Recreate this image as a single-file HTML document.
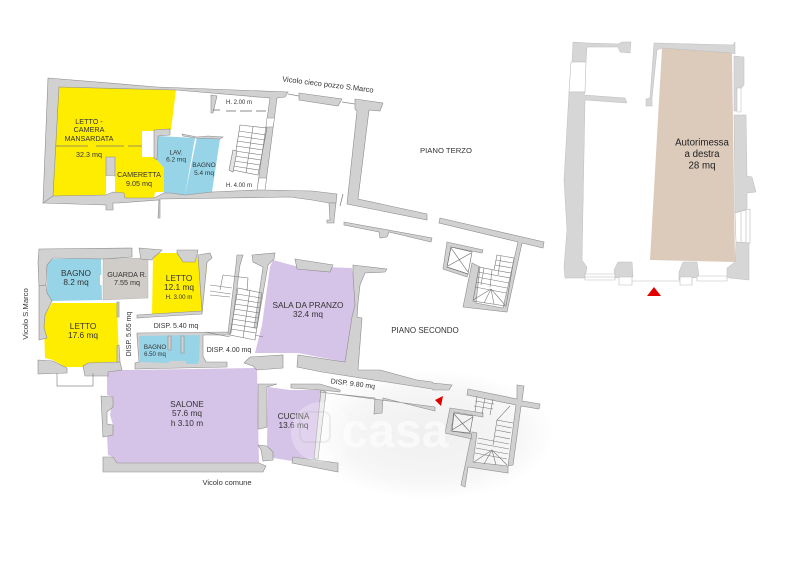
<!DOCTYPE html>
<html><head><meta charset="utf-8"><style>
html,body{margin:0;padding:0;background:#fff}
svg{display:block}
text{font-family:"Liberation Sans",sans-serif;fill:#333;text-anchor:middle}
.w{fill:#d1d1d1;stroke:#8c8c8c;stroke-width:.6}
.r{fill:#d6d6d6;stroke:#bdbdbd;stroke-width:.5}
.l{fill:none;stroke:#8a8a8a;stroke-width:.7}
.k{fill:none;stroke:#666;stroke-width:.6}
</style></head><body>
<svg width="800" height="565" viewBox="0 0 800 565" xmlns="http://www.w3.org/2000/svg">
<defs><radialGradient id="h"><stop offset="0" stop-color="#efefef"/><stop offset=".7" stop-color="#f6f6f6"/><stop offset="1" stop-color="#fff"/></radialGradient></defs>
<rect width="800" height="565" fill="#fff"/>
<ellipse cx="430" cy="435" rx="125" ry="65" fill="url(#h)"/>
<!-- PIANO TERZO rooms -->
<polygon fill="#ffed00" points="59,87 176,90 171,130 154,130 154,157 106,157 106,195 53,196"/>
<rect x="142" y="131" width="12" height="26" fill="#fff"/>
<polygon fill="#ffed00" points="115,157 154,157 164,168 164,192 155,192 154,198 125,198 124,193 115,192"/>
<polygon fill="#97d4e8" points="158,136 195,138 185,195 170,193 164,193 164,168 157,160"/>
<polygon fill="#97d4e8" points="197,137 220,139 212,192 185,195"/>
<!-- walls terzo -->
<polygon class="w" points="48,78 157,87 288,92 285,97 277,98 265,190 312,191 337,194 336,203 329,203 312,200 290,197 160,199 160,218 158,218 159,200 118,203 113,203 113,210 106,210 106,205 43,203 53,196 106,195 113,192 124,193 125,198 154,198 164,193 170,193 185,195 212,192 257,190 270,98 176,90 59,87 53,196 43,203"/>
<polygon class="w" points="106,157 115,157 115,176 106,176"/>
<polygon fill="#fff" points="106,176 114,176 114,189 106,189"/>
<polygon class="w" points="154,130 170,129 170,135 158,136 157,160 154,158"/>
<polygon class="w" points="182,134 197,137 208,136 223,137 220,139 196,138 183,136"/>
<polygon class="w" points="329,203 336,203 334,220 334,223 327,223 327,220 330,220"/>
<polygon class="w" points="211,95 217,96 213,113 211,113"/>
<polygon class="w" points="299,93 342,99 338,106 299,100"/>
<polygon class="w" points="355,99 383,103 380,111 369,110 358,199 427,214 427,220 347,204 357,111 355,109"/>
<polygon class="w" points="440,218 544,242 543,248 522,243 507,312 463,307 472,263 480,267 476,303 503,308 518,242 439,223"/>
<polygon class="w" points="344,222 432,238 431,242 389,232 387,237 380,238 379,232 344,225"/>
<polygon class="w" points="447,242 483,250 482,253 451,247 447,267 468,274 467,277 443,269"/>
<path class="k" d="M451,247 L472,252 L468,274 L447,267Z M451,248 L468,272 M471,253 L448,266"/>
<line x1="343" y1="194" x2="340" y2="206" stroke="#777" stroke-width=".7"/>
<path class="l" d="M288,94 L299,96 M342,102 L355,104"/>
<polygon fill="#fff" stroke="#8c8c8c" stroke-width=".5" points="267,118 274.5,118 273,127 266,127"/>
<polygon fill="#fff" stroke="#8c8c8c" stroke-width=".5" points="259,178 266.5,178 265,190 257,190"/>
<!-- dashed -->
<path d="M56,146 H88 M96,146 H124 M128,146 H142" stroke="#777" stroke-width=".7" fill="none"/>
<path d="M213,110 H220 M226,111 H236 M240,111 H252 M256,111 H266" stroke="#666" stroke-width=".7" fill="none"/>
<!-- stairs terzo -->
<g stroke="#777" stroke-width=".6" fill="none">
<path d="M240,125 L267,128 L258,175 L233,170 Z"/>
<path d="M239,131 L266,135 M238,136 L265,140 M237,141 L264,145 M236,146 L263,150 M235,151 L262,155 M234,156 L261,160 M234,161 L260,165 M233,166 L259,170 M253,127 L246,173"/>
<path d="M233,150 L237,151 L233,172 L229,170 Z" fill="#e4e4e4"/>
</g>
<!-- stairs terzo right -->
<g stroke="#777" stroke-width=".6" fill="none">
<path d="M497,255 L514,258 L506,306 L473,301 L479,267 L494,270Z"/>
<path d="M496,260 L513,263 M495,265 L512,268 M494,270 L511,273 M478,272 L510,278 M477,277 L509,283 M476,282 L507,288 M475,287 L506,293 M484,268 L481,285 M492,270 L490,287 M501,256 L498,275"/>
<path d="M473,300 L491,289 L505,305 M491,289 L484,303 M491,289 L494,304"/>
</g>
<!-- PIANO SECONDO rooms -->
<polygon fill="#97d4e8" points="47,265 53,259 101,258 102,300 52,301 47,293"/>
<rect x="100" y="275" width="5" height="10" fill="#fff"/>
<polygon fill="#d0cdc8" stroke="#aaa" stroke-width=".4" points="103,259 148,258 148,298 103,300"/>
<polygon fill="#ffed00" points="153,258 159,253 177,253 183,262 195,262 198,255 208,257 202,314 152,314"/>
<polygon fill="#ffed00" points="52,303 117,303 119,362 88,363 83,367 65,367 53,360 45,358 44,328 45,315"/>
<polygon fill="#d6c3e8" points="107,372 123,370 257,368 259,463 117,463 113,457 108,455 107,435 113,425 110,415 113,397 107,395"/>
<polygon fill="#d6c3e8" points="268,387 290,390 321,390 314,459 293,457 292,461 273,458 272,452 267,445"/>
<polygon fill="#d6c3e8" points="273,260 295,266 352,268 353,275 355,305 352,317 345,362 298,353 255,353 262,325 270,267"/>
<!-- walls secondo -->
<polygon class="w" points="39,249 132,248 132,257 103,259 53,258 47,265 46,285 39,286 38,262"/>
<polygon class="w" points="139,248 162,250 159,253 153,258 152,260 141,259"/>
<polygon class="w" points="177,250 198,250 197,255 195,262 183,262 177,253"/>
<polygon class="w" points="198,255 210,253 212,258 207,262 202,314 152,317 137,318 137,315 152,314 202,311"/>
<polygon class="w" points="39,286 46,285 47,293 52,301 45,315 44,328 47,338 39,340"/>
<polygon class="w" points="38,360 53,361 67,368 67,373 38,374"/>
<polygon class="w" points="83,366 88,363 120,362 122,370 108,372 108,376 85,376"/>
<polygon class="w" points="117,302 119,302 119,317 117,317"/>
<polygon class="w" points="117,346 119,345 120,362 117,362"/>
<path class="l" d="M57,373 V386 H93 V373"/>
<!-- bagno 6.50 -->
<polygon class="w" points="137,333 230,332 230,335 203,335 203,356 206,362 227,362 227,367 135,369 135,363 139,362 137,336"/>
<polygon fill="#97d4e8" points="139,336 200,335 199,361 197,364 187,364 185,361 170,361 168,363 140,362"/>
<polygon class="w" points="168,336 171,336 171,350 168,350"/>
<polygon class="w" points="181,336 184,336 184,353 181,353"/>
<!-- stair walls -->
<polygon class="w" points="237,255 243,255 240,265 231,333 228,333 236,265"/>
<polygon class="w" points="252,255 275,253 274,259 268,265 257,328 254,328 263,267 253,262"/>
<polygon class="w" points="101,396 113,397 113,407 107,412 107,424 113,425 113,435 103,437"/>
<polygon class="w" points="103,457 113,457 117,463 259,463 266,466 263,472 103,472"/>
<polygon class="w" points="258,384 277,384 267,387 267,427 260,429 258,429"/>
<polygon class="w" points="258,445 267,446 273,452 273,460 263,461 261,450"/>
<polygon class="w" points="291,384 320,384 340,390 340,392 321,390 291,388"/>
<polygon class="w" points="293,457 338,463 338,472 292,463"/>
<polygon class="w" points="321,390 326,392 318,459 314,459" style="fill:#e8e8e8"/>
<polygon class="w" points="244,363 250,357 283,355 283,368 257,370 253,366"/>
<polygon class="w" points="353,265 387,269 385,272 365,273 360,285 358,303 357,317 362,318 358,370 380,370 417,380 432,382 433,383 452,385 449,390 433,390 432,389 322,372 297,367 298,355 345,362 352,317 355,305 353,275"/>
<polygon class="w" points="295,259 333,265 330,272 297,269"/>
<polygon class="w" points="320,392 435,407 435,411 383,398 382,413 374,414 375,398 327,393"/>
<polygon class="w" points="468,389 517,399 517,385 524,386 522,401 540,404 539,409 521,406 513,465 508,466 508,473 468,467 465,487 461,485 472,432 477,433 473,462 508,466 516,405 467,395"/>
<polygon class="w" points="450,408 483,413 483,417 454,412 451,431 471,434 472,439 445,433"/>
<path class="k" d="M454,413 L473,416 L470,433 L452,431Z M454,414 L470,432 M473,417 L452,430"/>
<!-- stairs secondo -->
<g stroke="#777" stroke-width=".6" fill="none">
<path d="M223,275 L248,278 L247,291 M223,275 L220,290 M210,285 L232,288 M210,291 L231,294 M210,295 L230,297"/>
<path d="M238,288 L230,335 L255,340 L262,293 Z"/>
<path d="M237,294 L261,298 M236,299 L260,303 M235,304 L260,308 M234,309 L259,313 M233,314 L258,318 M232,319 L257,323 M231,324 L256,328 M231,329 L256,333 M250,290 L243,338"/>
<path d="M205,332 L230,337 M255,335 L263,337"/>
<path d="M477,396 L475,412 M485,398 L482,414 M493,399 L490,415 M475,401 L494,404 M474,406 L493,409"/>
<path d="M510,406 L497,420 L513,423 M497,425 L512,428 M496,430 L511,433 M495,436 L510,439 M478,438 L509,444 M477,443 L509,449 M476,448 L508,454 M475,453 L507,459"/>
<path d="M474,462 L492,450 L507,465 M492,450 L484,464 M492,450 L496,465 M497,420 L493,445"/>
</g>
<!-- RIGHT PLAN -->
<polygon fill="#dccabb" points="662,48 732,53 735,262 650,260"/>
<polygon class="r" points="573,42 587,43 618,44 622,42 631,42 630,53 620,52 618,47 587,47 586,62 572,62"/>
<polygon fill="#fff" stroke="#bbb" stroke-width=".6" points="571,62 586,62 585,92 569,92"/>
<polygon class="r" points="569,92 585,92 584,95 625,98 627,103 585,100 582,260 587,267 585,278 565,278 564,267 567,230 564,180"/>
<polygon class="r" points="654,43 733,45 735,42 735,54 732,53 662,48 657,50 652,98 652,106 646,106 646,99 650,98"/>
<polygon class="r" points="734,56 744,57 744,85 740,90 738,111 734,111"/>
<path d="M737,88 L741,88 L741,112 L737,112Z" fill="#fff" stroke="#bbb" stroke-width=".5"/>
<polygon class="r" points="734,115 746,115 747,176 752,177 756,192 747,193 747,209 735,213"/>
<path d="M735,213 L750,209 L750,243 L736,242Z M741,212 V242 M746,210 V243" fill="#fff" stroke="#bbb" stroke-width=".6"/>
<polygon class="r" points="736,242 749,243 749,280 730,278 727,277 727,268 735,262"/>
<polygon class="r" points="618,262 632,262 633,277 615,278 614,270"/>
<polygon class="r" points="683,262 697,262 699,277 679,280 679,272"/>
<path d="M585,274 H615 V280 H585Z M585,277 H615 M619,277 H632 V285 H619Z M632,281 H680 M680,277 H692 V285 H680Z M697,276 H727 V281 H697Z" fill="#fff" stroke="#bbb" stroke-width=".6"/>
<polygon fill="#e00000" points="647,296 661,296 654,287"/>
<!-- red arrow -->
<polygon fill="#e00000" points="443,396 435,400 441,406"/>
<!-- labels -->
<g font-size="7.2">
<text x="89" y="124">LETTO -</text>
<text x="89" y="132">CAMERA</text>
<text x="89" y="141">MANSARDATA</text>
<text x="89" y="157">32.3 mq</text>
<text x="139" y="177">CAMERETTA</text>
<text x="139" y="186">9.05 mq</text>
</g>
<g font-size="6.5">
<text x="176" y="154.5">LAV.</text>
<text x="176" y="161.5">6.2 mq</text>
<text x="204" y="167">BAGNO</text>
<text x="204" y="175">5.4 mq</text>
<text x="239" y="104" font-size="6">H. 2.00 m</text>
<text x="239" y="187" font-size="6">H. 4.00 m</text>
<text x="446" y="153" font-size="7.7">PIANO TERZO</text>
<text x="328" y="87" font-size="7.5" transform="rotate(7 328 84)">Vicolo cieco pozzo S.Marco</text>
</g>
<g font-size="8.3">
<text x="76" y="276">BAGNO</text>
<text x="76" y="285">8.2 mq</text>
<text x="127" y="277" font-size="7.2">GUARDA R.</text>
<text x="127" y="285" font-size="7.2">7.55 mq</text>
<text x="179" y="281">LETTO</text>
<text x="179" y="290">12.1 mq</text>
<text x="179" y="299" font-size="6.2">H. 3.00 m</text>
<text x="83" y="329">LETTO</text>
<text x="83" y="338">17.6 mq</text>
<text x="155" y="349" font-size="6.2">BAGNO</text>
<text x="155" y="356" font-size="6">6.50 mq</text>
<text x="176" y="328" font-size="7">DISP. 5.40 mq</text>
<text x="229" y="352" font-size="7">DISP. 4.00 mq</text>
<text x="131" y="334" font-size="7" transform="rotate(-90 131 334)">DISP. 5.65 mq</text>
<text x="28" y="314" font-size="7.7" transform="rotate(-90 28 314)">Vicolo  S.Marco</text>
<text x="187" y="407">SALONE</text>
<text x="187" y="416">57.6 mq</text>
<text x="187" y="426">h 3.10 m</text>
<text x="293.5" y="419">CUCINA</text>
<text x="293.5" y="428">13.6 mq</text>
<text x="227" y="485" font-size="7.5">Vicolo  comune</text>
<text x="308" y="308">SALA DA PRANZO</text>
<text x="308" y="317">32.4 mq</text>
<text x="425" y="333" font-size="8">PIANO SECONDO</text>
<text x="353" y="386" font-size="7" transform="rotate(7 353 383)">DISP. 9.80 mq</text>
</g>
<g font-size="9.7">
<text x="702" y="145.5" style="fill:#222">Autorimessa</text>
<text x="702" y="157" style="fill:#222">a destra</text>
<text x="702" y="168.5" style="fill:#222">28 mq</text>
</g>
<!-- watermark -->
<circle cx="321" cy="432" r="30" fill="#fff" opacity=".28"/>
<rect x="300" y="412" width="30" height="30" rx="6" fill="none" stroke="#888" stroke-width="2" opacity=".12"/>
<text x="395" y="447" font-size="48" style="fill:#fff;font-weight:bold" opacity=".62">casa</text>
</svg>
</body></html>
